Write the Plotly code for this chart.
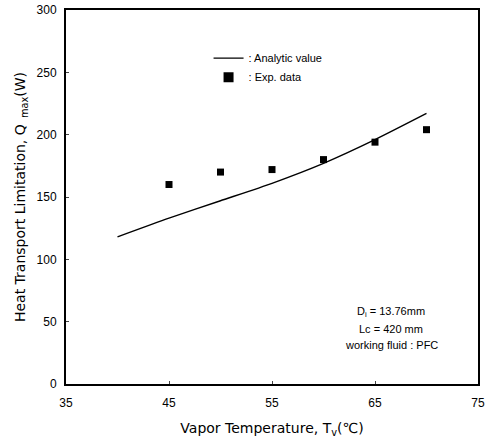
import plotly.graph_objects as go

# Analytic curve
analytic_T = [40, 45, 50, 55, 60, 65, 70]
analytic_Q = [118, 133, 147, 161, 177, 196, 217]

# Experimental data
exp_T = [45, 50, 55, 60, 65, 70]
exp_Q = [160, 170, 172, 180, 194, 204]

x_ticks = [35, 45, 55, 65, 75]
y_ticks = [0, 50, 100, 150, 200, 250, 300]

note_lines = ["D<sub>i</sub> = 13.76mm", "Lc = 420 mm", "working fluid : PFC"]

FONT = "Liberation Sans, Arial, sans-serif"
TICKFONT = "Liberation Sans Narrow, Liberation Sans, Arial, sans-serif"
TITLEFONT = "DejaVu Sans, Liberation Sans, sans-serif"

fig = go.Figure()
fig.add_trace(go.Scatter(
    x=analytic_T, y=analytic_Q, mode="lines",
    line=dict(color="black", width=1.4, shape="spline", smoothing=0.6),
    name=": Analytic value"))
fig.add_trace(go.Scatter(
    x=exp_T, y=exp_Q, mode="markers",
    marker=dict(symbol="square", size=7, color="black"),
    name=": Exp. data", showlegend=False))
# legend entry with the larger symbol used in the reference key
fig.add_trace(go.Scatter(
    x=[None], y=[None], mode="markers",
    marker=dict(symbol="square", size=10, color="black"),
    name=": Exp. data"))

for line, yp in zip(note_lines, [0.193, 0.147, 0.104]):
    fig.add_annotation(
        x=0.79, y=yp, xref="paper", yref="paper", xanchor="center", yanchor="middle",
        text=line, showarrow=False,
        font=dict(family=FONT, size=11, color="black"))

fig.update_layout(
    width=493, height=442,
    margin=dict(l=66, r=15, t=10, b=58),
    paper_bgcolor="white", plot_bgcolor="white",
    font=dict(family=FONT, size=11, color="black"),
    showlegend=True,
    legend=dict(x=0.346, y=0.910, xanchor="left", yanchor="top",
                bgcolor="rgba(0,0,0,0)", font=dict(size=11),
                tracegroupgap=0),
    xaxis=dict(range=[35, 75], tickvals=x_ticks, ticks="inside", ticklen=3,
               showgrid=False, zeroline=False, showline=True, linecolor="black",
               linewidth=2, mirror=True, automargin=False, ticklabelstandoff=7,
               title=dict(text="Vapor Temperature, T<sub>v</sub>(℃)",
                          font=dict(family=TITLEFONT, size=14), standoff=14),
               tickfont=dict(family=TICKFONT, size=12)),
    yaxis=dict(range=[0, 300], tickvals=y_ticks, ticks="inside", ticklen=3,
               showgrid=False, zeroline=False, showline=True, linecolor="black",
               linewidth=2, mirror=True, automargin=False, ticklabelstandoff=5,
               title=dict(text="Heat Transport Limitation, Q<sub>  max</sub>(W)",
                          font=dict(family=TITLEFONT, size=14), standoff=8),
               tickfont=dict(family=TICKFONT, size=12)),
)

fig.write_html("out.html", config={"displayModeBar": False},
               post_script="document.body.style.margin='0px';")
